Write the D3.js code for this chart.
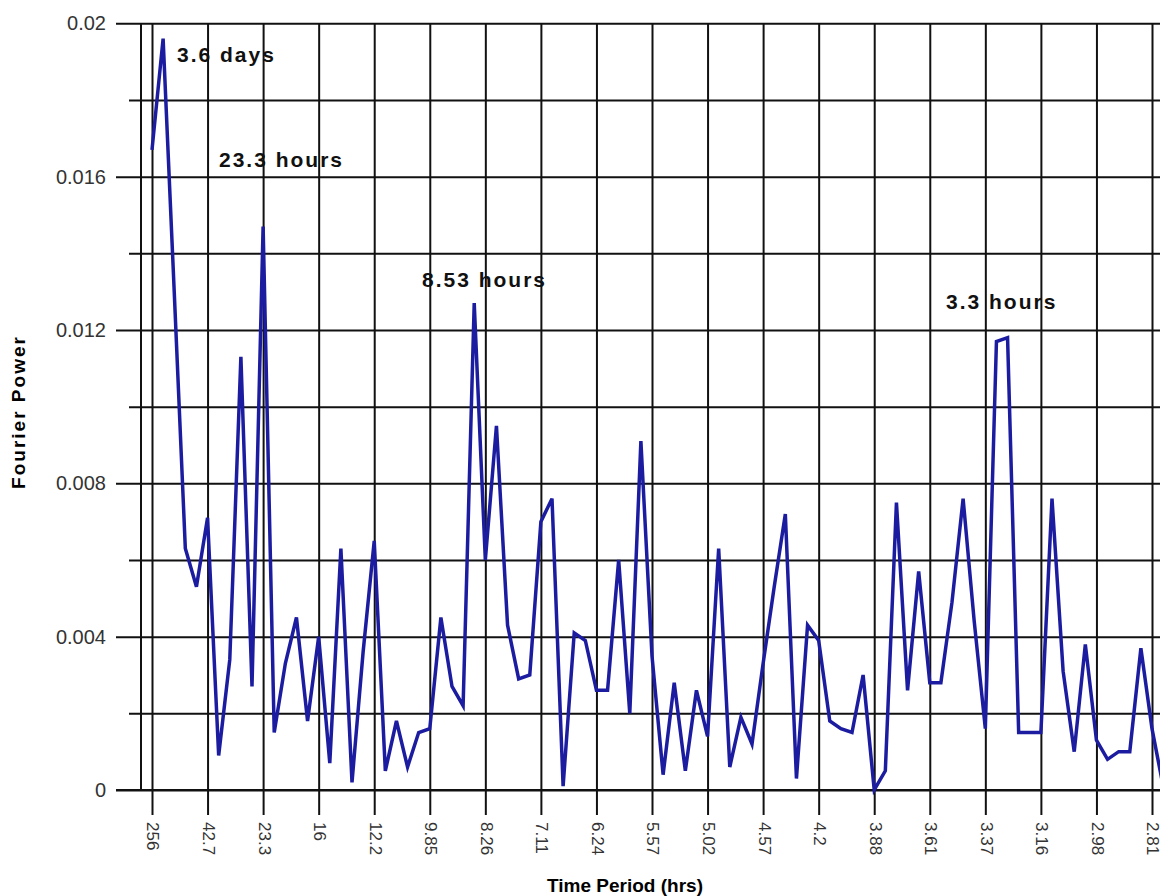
<!DOCTYPE html>
<html>
<head>
<meta charset="utf-8">
<script src="https://cdn.jsdelivr.net/npm/d3@7"></script>
<style>
  html, body { margin: 0; padding: 0; background: #fff; }
  svg { display: block; }
</style>
</head>
<body>
<div id="chart"></div>
<script>
// period labels under every 5th harmonic (hours)
const periodLabels = ['256', '42.7', '23.3', '16', '12.2', '9.85', '8.26', '7.11', '6.24', '5.57',
  '5.02', '4.57', '4.2', '3.88', '3.61', '3.37', '3.16', '2.98', '2.81'];
const periodIndex = periodLabels.map((d, i) => 1 + i * 5);

// Fourier power for harmonic 1..92
const power = [
  0.0167, 0.0196, 0.0130, 0.0063, 0.0053, 0.0071, 0.0009, 0.0034, 0.0113, 0.0027,
  0.0147, 0.0015, 0.0033, 0.0045, 0.0018, 0.0040, 0.0007, 0.0063, 0.0002, 0.0036,
  0.0065, 0.0005, 0.0018, 0.0006, 0.0015, 0.0016, 0.0045, 0.0027, 0.0022, 0.0127,
  0.0060, 0.0095, 0.0043, 0.0029, 0.0030, 0.0070, 0.0076, 0.0001, 0.0041, 0.0039,
  0.0026, 0.0026, 0.0060, 0.0020, 0.0091, 0.0035, 0.0004, 0.0028, 0.0005, 0.0026,
  0.0014, 0.0063, 0.0006, 0.0019, 0.0012, 0.0033, 0.0053, 0.0072, 0.0003, 0.0043,
  0.0039, 0.0018, 0.0016, 0.0015, 0.0030, 0.0000, 0.0005, 0.0075, 0.0026, 0.0057,
  0.0028, 0.0028, 0.0049, 0.0076, 0.0044, 0.0016, 0.0117, 0.0118, 0.0015, 0.0015,
  0.0015, 0.0076, 0.0031, 0.0010, 0.0038, 0.0013, 0.0008, 0.0010, 0.0010, 0.0037,
  0.0016, 0.0001
];

const yMajorTicks = [0, 0.004, 0.008, 0.012, 0.016, 0.02];
const yMinorTicks = [0.002, 0.006, 0.010, 0.014, 0.018];
const yTickLabels = ['0', '0.004', '0.008', '0.012', '0.016', '0.02'];

// peak annotations, placed in data units (harmonic, power)
const noteText = ['3.6 days', '23.3 hours', '8.53 hours', '3.3 hours'];
const noteK = [3.25, 7.03, 25.3, 72.46];
const noteV = [0.0190, 0.01625, 0.01312, 0.01254];

const W = 1160, H = 896;
const GRID = '#111';

const svg = d3.select('#chart').append('svg')
  .attr('width', W)
  .attr('height', H);

const x = d3.scaleLinear().domain([1, 91]).range([152, 1152]);
const y = d3.scaleLinear().domain([0, 0.02]).range([790, 23.3]);

// minor horizontal grid
const minorAxis = d3.axisLeft(y)
  .tickValues(yMinorTicks)
  .tickSize(-(W - 129))
  .tickFormat('');
svg.append('g')
  .attr('transform', 'translate(129,0)')
  .call(minorAxis)
  .call(g => g.select('.domain').remove())
  .call(g => g.selectAll('line').attr('stroke', GRID).attr('stroke-width', 2));

// major horizontal grid with labels
const majorAxis = d3.axisLeft(y)
  .tickValues(yMajorTicks)
  .tickSize(-(W - 116))
  .tickPadding(10)
  .tickFormat((d, i) => yTickLabels[i]);
svg.append('g')
  .attr('transform', 'translate(116,0)')
  .call(majorAxis)
  .call(g => g.select('.domain').remove())
  .call(g => g.selectAll('line').attr('stroke', GRID).attr('stroke-width', 2))
  .call(g => g.selectAll('text')
    .attr('fill', '#333')
    .style('font-family', 'Liberation Sans, Arial, sans-serif')
    .style('font-size', '20px'));

// vertical grid + rotated period labels
const xAxis = d3.axisBottom(x)
  .tickValues(periodIndex)
  .tickSize(815 - 23.3)
  .tickFormat((d, i) => periodLabels[i]);
svg.append('g')
  .attr('transform', 'translate(0,23.3)')
  .call(xAxis)
  .call(g => g.select('.domain').remove())
  .call(g => g.selectAll('line').attr('stroke', GRID).attr('stroke-width', 2))
  .call(g => g.selectAll('text')
    .attr('y', 0)
    .attr('dy', '0.3em')
    .attr('transform', `translate(0,${822 - 23.3}) rotate(90)`)
    .attr('text-anchor', 'start')
    .attr('fill', '#333')
    .style('font-family', 'Liberation Sans, Arial, sans-serif')
    .style('font-size', '17px'));

// axis lines
svg.append('line')
  .attr('x1', 141).attr('x2', 141)
  .attr('y1', y(0.02)).attr('y2', y(0))
  .attr('stroke', GRID).attr('stroke-width', 2);
svg.append('line')
  .attr('x1', 116).attr('x2', W)
  .attr('y1', y(0)).attr('y2', y(0))
  .attr('stroke', GRID).attr('stroke-width', 2);

// power spectrum
const line = d3.line()
  .x((d, i) => x(i + 1))
  .y(d => y(d));
svg.append('path')
  .datum(power)
  .attr('d', line)
  .attr('fill', 'none')
  .attr('stroke', '#1c1ca0')
  .attr('stroke-width', 3.5)
  .attr('stroke-linejoin', 'miter');

// annotations
svg.selectAll('.note')
  .data(noteText)
  .enter()
  .append('text')
  .attr('class', 'note')
  .attr('x', (d, i) => x(noteK[i]))
  .attr('y', (d, i) => y(noteV[i]))
  .attr('fill', '#111')
  .style('font-family', 'Liberation Sans, Arial, sans-serif')
  .style('font-size', '21px')
  .style('font-weight', 'bold')
  .style('letter-spacing', '2px')
  .text(d => d);

// axis titles
svg.append('text')
  .attr('x', 625)
  .attr('y', 892)
  .attr('text-anchor', 'middle')
  .attr('fill', '#000')
  .style('font-family', 'Liberation Sans, Arial, sans-serif')
  .style('font-size', '19px')
  .style('font-weight', 'bold')
  .text('Time Period (hrs)');

svg.append('text')
  .attr('transform', 'translate(25,412) rotate(-90)')
  .attr('text-anchor', 'middle')
  .attr('fill', '#000')
  .style('font-family', 'Liberation Sans, Arial, sans-serif')
  .style('font-size', '19px')
  .style('font-weight', 'bold')
  .style('letter-spacing', '2px')
  .text('Fourier Power');
</script>
</body>
</html>
